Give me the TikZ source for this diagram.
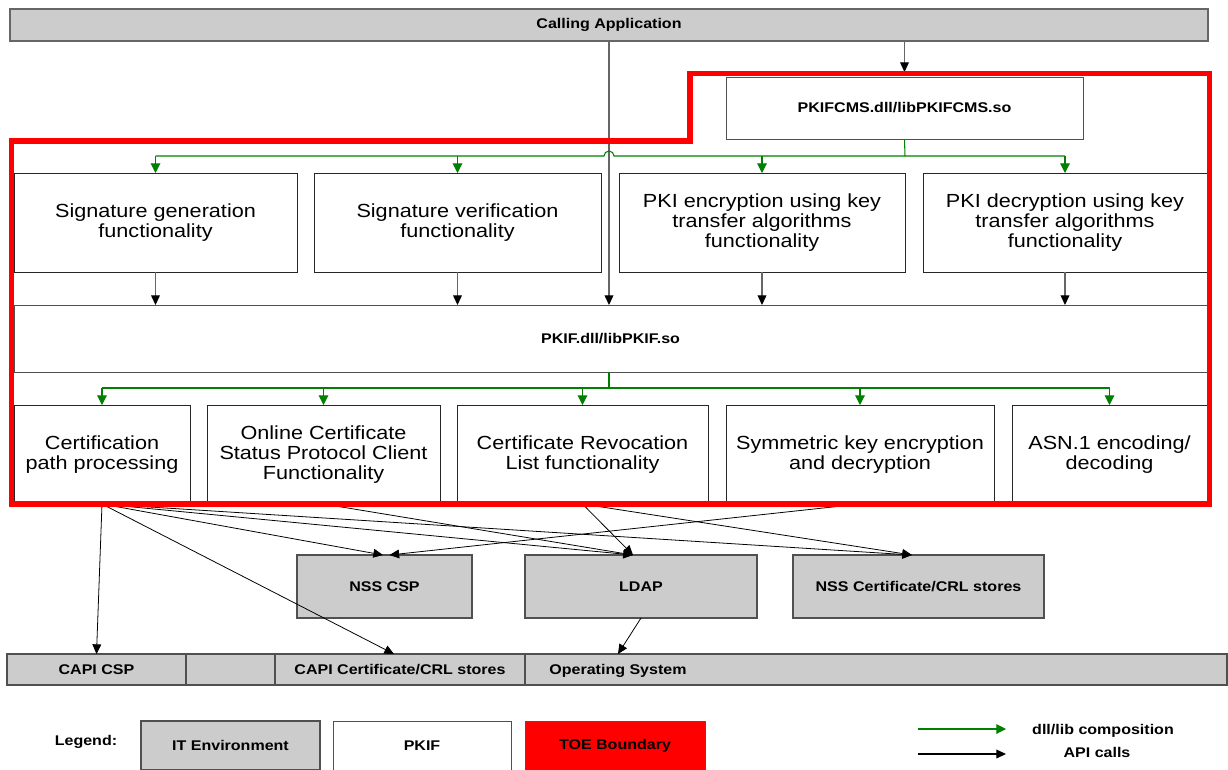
\documentclass[tikz,border=0pt]{standalone}
\usepackage{fontspec}
\setmainfont{Liberation Sans}[FakeStretch=1.14]
\usetikzlibrary{arrows.meta}
\definecolor{envgray}{HTML}{CCCCCC}
\definecolor{compgreen}{HTML}{008000}
\definecolor{bordergray}{HTML}{505050}
\def\pxu{0.02cm}
\newcommand\mkbox[7]{\node[#6, minimum width={(#4-#2)*\pxu}, minimum height={(#5-#3)*\pxu}] (#1) at ({(#2+#4)/2},{(#3+#5)/2}) {#7};}
\tikzset{
  every node/.style={inner sep=0pt, outer sep=0pt},
  lbl/.style={font=\fontsize{8}{9.6}\selectfont\bfseries},
  fbox/.style={draw=black!85, line width=0.5pt, fill=white, align=center, font=\fontsize{10.8}{11.2}\selectfont},
  envbox/.style={draw=bordergray, fill=envgray, line width=0.6pt, lbl},
  pbox/.style={draw=bordergray, fill=white, line width=0.5pt, lbl},
  toebox/.style={draw=bordergray, fill=red, line width=0.5pt, lbl},
  upapi/.style={draw=black!60, line width=0.6pt, -{Triangle[length=5.5pt,width=5pt,black]}},
  api/.style={draw=black, line width=0.45pt, -{Triangle[length=5.5pt,width=5pt]}},
  gl/.style={draw=compgreen, line width=0.6pt},
  comp/.style={gl, -{Triangle[length=5.5pt,width=5.5pt]}},
  toe/.style={draw=red, line width=2.9pt, line join=miter},
}
\begin{document}
\begin{tikzpicture}[x=0.02cm, y=-0.02cm]
\useasboundingbox (0,0) rectangle (1228,769);
\clip (0,0) rectangle (1228,769);

% top
\mkbox{app}{10}{9}{1208}{41}{envbox,draw=black!60}{Calling Application}
\mkbox{cms}{726}{77}{1083}{139}{pbox}{PKIFCMS.dll/libPKIFCMS.so}

% functionality boxes
\mkbox{sg}{14}{173}{297}{272}{fbox}{Signature generation\\functionality}
\mkbox{sv}{314}{173}{601}{272}{fbox}{Signature verification\\functionality}
\mkbox{pe}{619}{173}{905}{272}{fbox}{PKI encryption using key\\transfer algorithms\\functionality}
\mkbox{pd}{923}{173}{1207}{272}{fbox}{PKI decryption using key\\transfer algorithms\\functionality}

\mkbox{pkif}{14}{305}{1207}{372}{pbox}{PKIF.dll/libPKIF.so}

\mkbox{cpp}{14}{405}{190}{504}{fbox}{Certification\\path processing}
\mkbox{ocsp}{207}{405}{440}{504}{fbox}{Online Certificate\\Status Protocol Client\\Functionality}
\mkbox{crl}{457}{405}{708}{504}{fbox}{Certificate Revocation\\List functionality}
\mkbox{sym}{726}{405}{994}{504}{fbox}{Symmetric key encryption\\and decryption}
\mkbox{asn}{1012}{405}{1207}{504}{fbox}{ASN.1 encoding/\\decoding}

% IT environment
\mkbox{nsscsp}{297}{555}{472}{618}{envbox}{NSS CSP}
\mkbox{ldap}{525}{555}{757}{618}{envbox}{LDAP}
\mkbox{nsscert}{793}{555}{1044}{618}{envbox}{NSS Certificate/CRL stores}

\mkbox{os}{7}{654}{1227}{685}{envbox}{}
\mkbox{capicsp}{7}{654}{186}{685}{envbox}{CAPI CSP}
\mkbox{capicert}{275}{654}{525}{685}{envbox}{CAPI Certificate/CRL stores}
\node[lbl] (ostext) at (618,670.5) {Operating System};

% calling application connectors
\coordinate (vx) at (609,0);
\coordinate (gbus) at (905,156);
\coordinate (hopL) at (604,156);
\draw[upapi] (app.south -| cms.north) -- ([yshift=0.1cm]cms.north);
\draw[upapi] (app.south -| vx) -- (pkif.north -| vx);

% composition (top)
\draw[gl] (cms.south) -- (gbus);
\draw[gl] (sg.north |- gbus) -- (hopL) arc[start angle=180, end angle=0, radius=0.1cm] -- (pd.north |- gbus);
\foreach \n in {sg,sv,pe,pd} \draw[comp] (\n.north |- gbus) -- (\n.north);
\foreach \n in {sg,sv,pe,pd} \draw[upapi] (\n.south) -- (\n.south |- pkif.north);

% composition (PKIF)
\coordinate (gbus2) at (609,388);
\draw[gl] (pkif.south -| vx) -- (gbus2);
\draw[gl] (cpp.north |- gbus2) -- (asn.north |- gbus2);
\foreach \n in {cpp,ocsp,crl,sym,asn} \draw[comp] (\n.north |- gbus2) -- (\n.north);

% API calls to the IT environment
\draw[api] (cpp.south) -- (capicsp.north);
\draw[api] (cpp.south) -- ([xshift=-0.12cm]capicert.north);
\draw[api] (cpp.south) -- ([xshift=-0.03cm]nsscsp.north);
\draw[api] (cpp.south) -- ([xshift=-0.16cm]ldap.north);
\draw[api] (cpp.south) -- ([xshift=-0.13cm]nsscert.north);
\draw[api] (ocsp.south) -- ([xshift=-0.16cm]ldap.north);
\draw[api] (crl.south) -- ([xshift=-0.16cm]ldap.north);
\draw[api] (crl.south) -- ([xshift=-0.13cm]nsscert.north);
\draw[api] (sym.south) -- ([xshift=0.1cm]nsscsp.north);
\draw[api] (ldap.south) -- (ostext.north |- os.north);

% TOE boundary
\draw[toe] (11.5,141) -- (690,141) -- (690,73.5) -- (1209.5,73.5) -- (1209.5,504) -- (11.5,504) -- cycle;

% legend
\node[lbl] (legend) at (86,742) {Legend:};
\mkbox{lit}{141}{721}{320}{770}{envbox}{IT Environment}
\mkbox{lpkif}{333}{721}{511}{770}{pbox}{PKIF}
\mkbox{ltoe}{525}{721}{705}{770}{toebox}{TOE Boundary}
\coordinate (lg1a) at (918,729);
\coordinate (lg1b) at (1006,729);
\coordinate (lg2a) at (918,754);
\coordinate (lg2b) at (1006,754);
\draw[comp] (lg1a) -- (lg1b);
\draw[api, line width=0.6pt] (lg2a) -- (lg2b);
\node[lbl] (lcomp) at (1103,731) {dll/lib composition};
\node[lbl] (lapi) at (1097,752) {API calls};
\end{tikzpicture}
\end{document}
